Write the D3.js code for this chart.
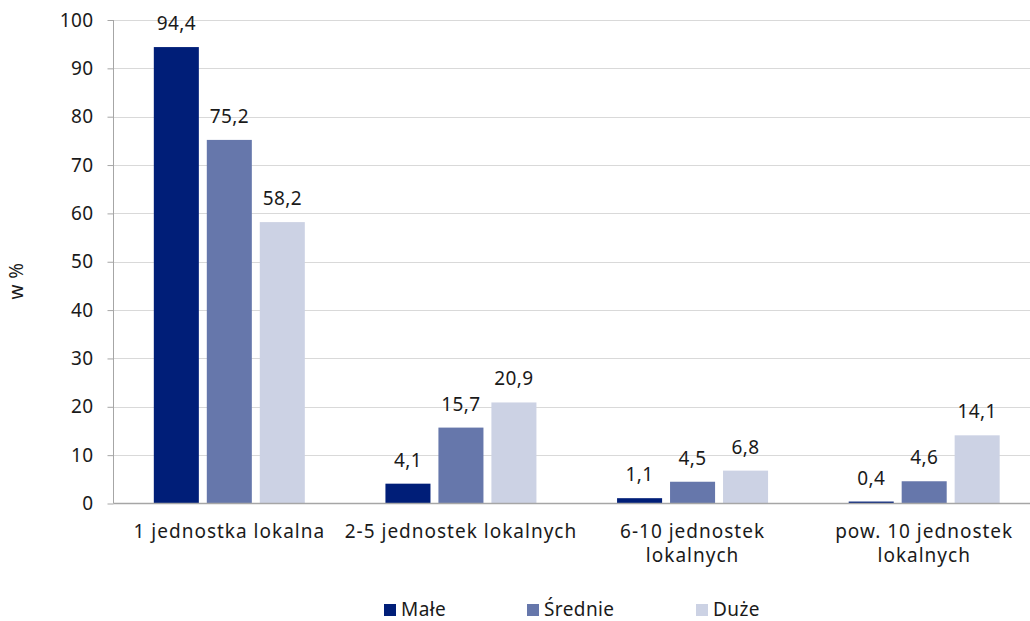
<!DOCTYPE html>
<html><head><meta charset="utf-8">
<script src="https://cdn.jsdelivr.net/npm/d3@7"></script>
<style>
body{margin:0;background:#fff;}
text{font-family:"Noto Sans","Open Sans",sans-serif;fill:#1a1a1a;font-size:19px;letter-spacing:0.4px;}
text.cat{letter-spacing:1px;}
</style></head>
<body><svg id="c" width="1030" height="621"></svg>
<script>
const categories = [["1 jednostka lokalna"],["2-5 jednostek lokalnych"],["6-10 jednostek","lokalnych"],["pow. 10 jednostek","lokalnych"]];
const seriesNames = ["Małe","Średnie","Duże"];
const male = [94.4, 4.1, 1.1, 0.4];
const srednie = [75.2, 15.7, 4.5, 4.6];
const duze = [58.2, 20.9, 6.8, 14.1];
const colors = ["#001e78","#6677ab","#ccd2e4"];
const yTicks = [0,10,20,30,40,50,60,70,80,90,100];
const series = [male, srednie, duze];

(function(){
const svg = d3.select("#c");
const mLeft = 113.5, mRight = 1040, mTop = 20, mBottom = 503.5;
const x0 = d3.scaleBand().domain(d3.range(categories.length)).range([mLeft, mRight]).paddingInner(0).paddingOuter(0);
const x1 = d3.scaleBand().domain(d3.range(3)).range([x0.bandwidth()/2 - 75.5, x0.bandwidth()/2 + 75.5]).paddingInner(0.15).paddingOuter(0);
const y = d3.scaleLinear().domain([0,100]).range([mBottom, mTop]);

svg.append("g").selectAll("line").data(yTicks.filter(d=>d>0)).join("line")
  .attr("x1", mLeft).attr("x2", 1030).attr("y1", d=>Math.round(y(d))+0.5).attr("y2", d=>Math.round(y(d))+0.5)
  .attr("stroke","#d9d9d9").attr("stroke-width",1);

const yAxis = svg.append("g").attr("transform",`translate(${mLeft},0)`)
  .call(d3.axisLeft(y).tickValues(yTicks).tickSize(6).tickPadding(14).tickFormat(d=>d));
yAxis.select(".domain").attr("stroke","#a6a6a6").attr("d",`M0,${mTop}V${mBottom}`);
yAxis.selectAll(".tick line").attr("stroke","#a6a6a6");
yAxis.selectAll(".tick text").attr("fill","#1a1a1a");
yAxis.attr("font-size",null).attr("font-family",null);

const groups = svg.append("g").selectAll("g").data(d3.range(categories.length)).join("g")
  .attr("transform", i=>`translate(${x0(i)},0)`);
groups.selectAll("rect").data(i=>series.map((s,j)=>({j, v:s[i]}))).join("rect")
  .attr("x", d=>x1(d.j)).attr("width", x1.bandwidth())
  .attr("y", d=>y(d.v)).attr("height", d=>mBottom - y(d.v))
  .attr("fill", d=>colors[d.j]);
groups.selectAll("text.val").data(i=>series.map((s,j)=>({j, v:s[i]}))).join("text")
  .attr("class","val")
  .attr("x", d=>x1(d.j)+x1.bandwidth()/2).attr("y", d=>y(d.v)-17)
  .attr("text-anchor","middle")
  .text(d=>d.v.toFixed(1).replace(".",","));

svg.append("line").attr("x1",mLeft).attr("x2",1030).attr("y1",mBottom).attr("y2",mBottom)
  .attr("stroke","#a6a6a6").attr("stroke-width",1.5);

const cl = svg.append("g").selectAll("text").data(categories).join("text")
  .attr("class","cat")
  .attr("x",(d,i)=>x0(i)+x0.bandwidth()/2).attr("y",538)
  .attr("text-anchor","middle");
cl.selectAll("tspan").data(d=>d).join("tspan")
  .attr("x",function(){return this.parentNode.getAttribute("x");})
  .attr("dy",(d,k)=>k===0?0:24).text(d=>d);

svg.append("text").attr("transform","translate(23,281) rotate(-90)")
  .attr("text-anchor","middle").text("w %");

const legX = [384, 527, 696];
const lg = svg.append("g").selectAll("g").data(seriesNames).join("g")
  .attr("transform",(d,i)=>`translate(${legX[i]},604)`);
lg.append("rect").attr("width",12).attr("height",12).attr("fill",(d,i)=>colors[i]);
lg.append("text").attr("x",17).attr("y",11.5).text(d=>d);
})();
</script></body></html>
